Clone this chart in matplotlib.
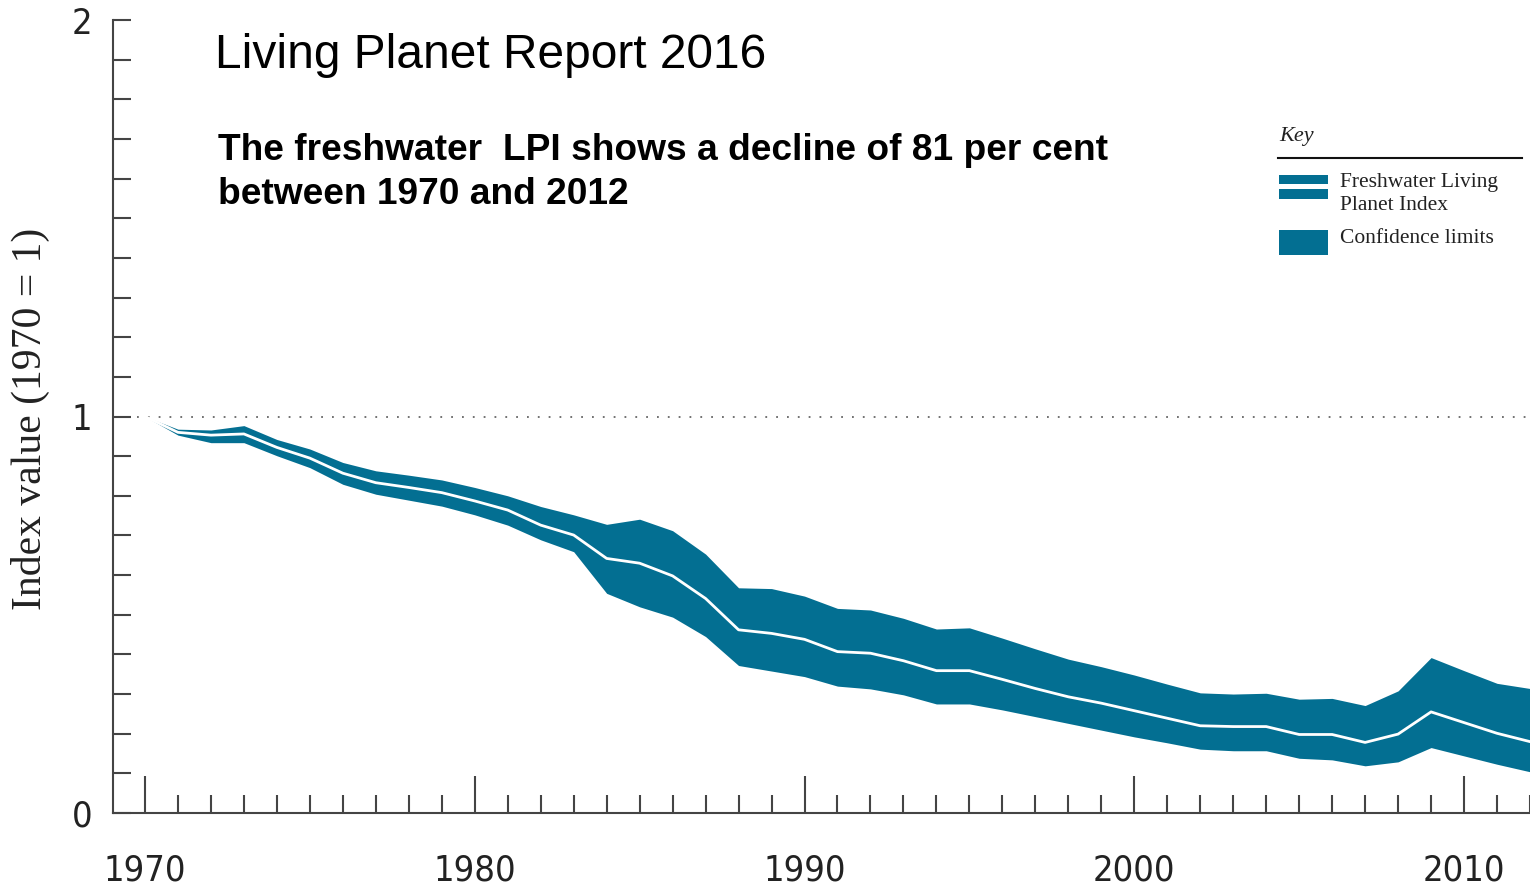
import matplotlib
matplotlib.use('Agg')
import matplotlib.pyplot as plt
import matplotlib.patches as patches
from matplotlib.lines import Line2D
from matplotlib.ticker import MultipleLocator

# ==========================================
# data
# ==========================================
years = list(range(1970, 2013))
index_line = [1.000, 0.960, 0.953, 0.956, 0.922, 0.895, 0.857, 0.833, 0.821, 0.808,
              0.787, 0.764, 0.726, 0.701, 0.642, 0.630, 0.598, 0.541, 0.462, 0.453,
              0.438, 0.407, 0.403, 0.384, 0.359, 0.359, 0.337, 0.314, 0.293, 0.277,
              0.258, 0.239, 0.220, 0.218, 0.218, 0.198, 0.198, 0.178, 0.199, 0.255,
              0.228, 0.201, 0.180]
upper = [1.000, 0.968, 0.966, 0.977, 0.942, 0.918, 0.884, 0.863, 0.852, 0.840,
         0.821, 0.800, 0.773, 0.752, 0.728, 0.741, 0.712, 0.653, 0.568, 0.566,
         0.547, 0.516, 0.512, 0.491, 0.464, 0.467, 0.441, 0.414, 0.388, 0.369,
         0.348, 0.325, 0.303, 0.300, 0.302, 0.287, 0.289, 0.271, 0.308, 0.392,
         0.359, 0.327, 0.314]
lower = [1.000, 0.953, 0.934, 0.934, 0.901, 0.871, 0.829, 0.804, 0.789, 0.774,
         0.752, 0.726, 0.689, 0.659, 0.554, 0.520, 0.494, 0.445, 0.372, 0.358,
         0.344, 0.320, 0.313, 0.298, 0.275, 0.275, 0.260, 0.243, 0.226, 0.209,
         0.192, 0.177, 0.161, 0.157, 0.157, 0.138, 0.134, 0.119, 0.129, 0.165,
         0.144, 0.123, 0.104]

TEAL = '#036f92'
AXC = '#444444'
W, H = 1530, 889

def fx(x):
    return x / W

def fy(y):
    return 1 - y / H

cond = ['Liberation Sans Narrow', 'DejaVu Sans']
serif = ['Liberation Serif', 'DejaVu Serif']
sans = ['Liberation Sans', 'DejaVu Sans']

fig = plt.figure(figsize=(15.3, 8.89), dpi=100)
ax = fig.add_axes([fx(113), fy(813), 1 - fx(113), fy(20) - fy(813)])

ax.fill_between(years, lower, upper, color=TEAL, lw=0, zorder=2)
ax.plot(years, index_line, color='white', lw=2, zorder=3)
ax.hlines(1, 1969.75, 2012, colors='#666666', linestyles=(0, (1, 5)), lw=1.3, zorder=1)

ax.set_xlim(1969.03, 2012)
ax.set_ylim(0, 2)

for s in ['top', 'right']:
    ax.spines[s].set_visible(False)
for s in ['left', 'bottom']:
    ax.spines[s].set_color(AXC)
    ax.spines[s].set_linewidth(1.5)

ax.xaxis.set_major_locator(MultipleLocator(10))
ax.xaxis.set_minor_locator(MultipleLocator(1))
ax.yaxis.set_major_locator(MultipleLocator(1))
ax.yaxis.set_minor_locator(MultipleLocator(0.1))

ax.tick_params(axis='x', which='major', direction='in', length=27, width=1.5, color=AXC, pad=29)
ax.tick_params(axis='x', which='minor', direction='in', length=13, width=1.5, color=AXC)
ax.tick_params(axis='y', which='both', direction='in', length=13, width=1.5, color=AXC, pad=15)

for lab in ax.get_xticklabels() + ax.get_yticklabels():
    lab.set_fontsize(26)
    lab.set_fontfamily(cond)
    lab.set_fontstretch('condensed')
    lab.set_color('#222222')

fig.text(fx(30), fy(419), 'Index value (1970 = 1)', rotation=90, ha='center', va='center',
         fontsize=30, family=serif, color='#222222')

# titles
fig.text(fx(215), fy(55), 'Living Planet Report 2016', ha='left', va='center',
         fontsize=34.5, family=sans, color='black')
fig.text(fx(218), fy(150), 'The freshwater  LPI shows a decline of 81 per cent', ha='left', va='center',
         fontsize=26.7, fontweight='bold', family=sans, color='black')
fig.text(fx(218), fy(194), 'between 1970 and 2012', ha='left', va='center',
         fontsize=26.7, fontweight='bold', family=sans, color='black')

# key
fig.text(fx(1279), fy(137), 'Key', ha='left', va='center', fontsize=16, style='italic',
         family=serif, color='#222222')
fig.add_artist(Line2D([fx(1278), fx(1522)], [fy(158), fy(158)], color='#111111', lw=1.5))
fig.add_artist(patches.Rectangle((fx(1279), fy(184)), fx(49), fy(175) - fy(184), color=TEAL, lw=0))
fig.add_artist(patches.Rectangle((fx(1279), fy(199)), fx(49), fy(189) - fy(199), color=TEAL, lw=0))
fig.add_artist(patches.Rectangle((fx(1279), fy(255)), fx(49), fy(230) - fy(255), color=TEAL, lw=0))
fig.text(fx(1340), fy(183), 'Freshwater Living', ha='left', va='center', fontsize=15.5,
         family=serif, color='#222222')
fig.text(fx(1340), fy(205), 'Planet Index', ha='left', va='center', fontsize=15.5,
         family=serif, color='#222222')
fig.text(fx(1340), fy(239), 'Confidence limits', ha='left', va='center', fontsize=15.5,
         family=serif, color='#222222')

fig.savefig('out.png', dpi=100)
